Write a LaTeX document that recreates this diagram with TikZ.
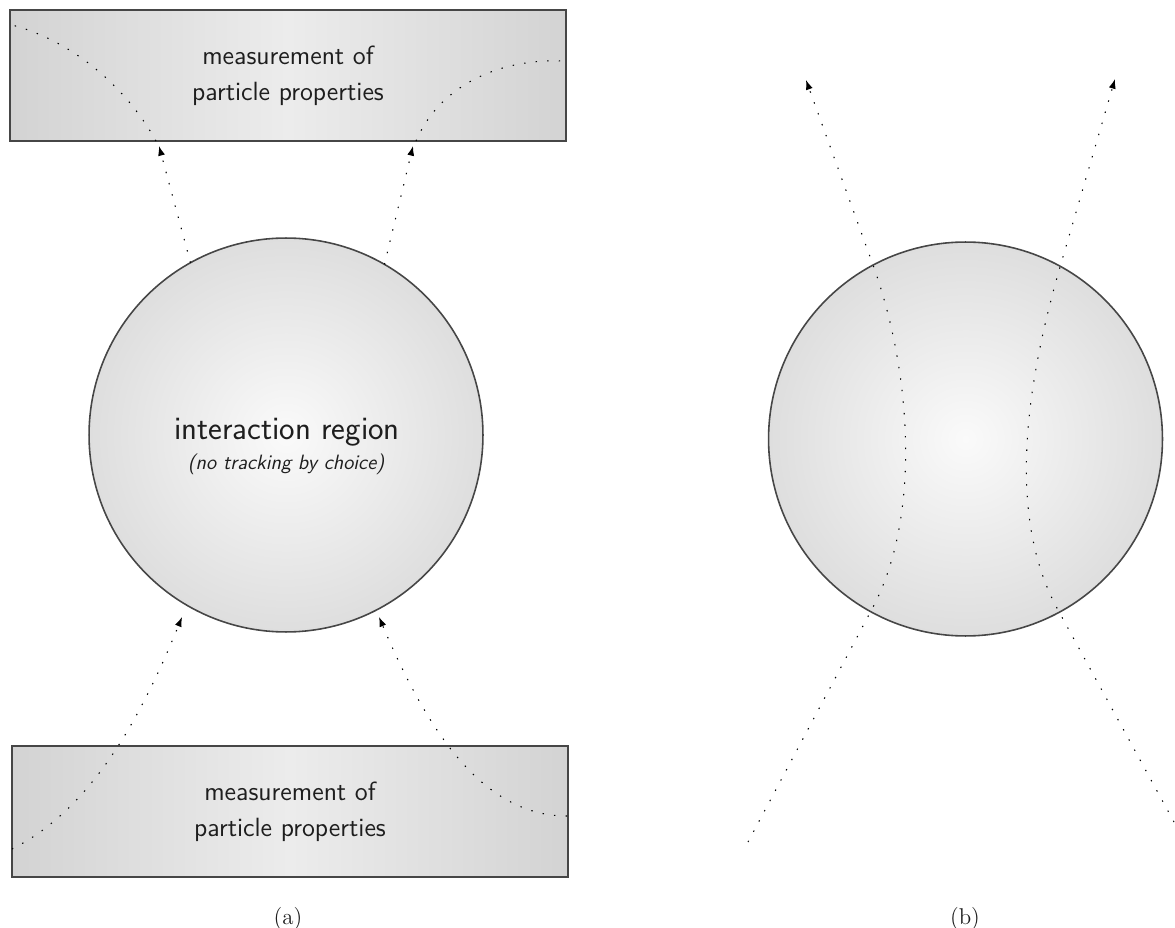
\documentclass[tikz,border=0pt]{standalone}
\usepackage{fontspec}
\usetikzlibrary{arrows.meta}
\definecolor{boxedge}{RGB}{211,211,211}
\definecolor{boxmid}{RGB}{236,236,236}
\definecolor{ballin}{RGB}{250,250,250}
\definecolor{ballout}{RGB}{222,222,222}
\definecolor{edgegray}{RGB}{70,70,70}
\definecolor{txt}{RGB}{30,30,30}
\begin{document}
\begin{tikzpicture}[x=0.02cm,y=-0.02cm,
  measbox/.style={draw=edgegray, line width=0.8pt, rectangle,
    minimum width=11.12cm, minimum height=2.62cm, inner sep=0pt, outer sep=0pt,
    left color=boxedge, right color=boxedge, middle color=boxmid,
    align=center, text=txt, font=\sffamily\fontsize{15}{20.4}\selectfont},
  ball/.style={draw=edgegray, line width=0.9pt, circle, minimum size=7.88cm,
    inner sep=0pt, outer sep=0pt, inner color=ballin, outer color=ballout},
  track/.style={line width=0.6pt, dash pattern=on 0.8pt off 5.8pt, black},
  trackarrow/.style={track, -{Latex[length=5.5pt,width=4pt]}},
  caption/.style={font=\fontsize{13}{15}\selectfont, text=txt},
  heading/.style={font=\sffamily\fontsize{18.7}{22}\selectfont, text=txt, anchor=base},
  subheading/.style={font=\sffamily\itshape\fontsize{11.8}{14}\selectfont, text=txt, anchor=base}
]
\useasboundingbox (0,0) rectangle (1175,928);

% ---------- panel (a) ----------
\node[measbox] (topbox) at (288,75.5) {measurement of\\particle properties};
\node[measbox] (botbox) at (290,811.5) {measurement of\\particle properties};
\node[ball] (ballA) at (286,435) {};
\node[heading] (title) at (287,439) {interaction region};
\node[subheading] (sub) at (286,469) {(no tracking by choice)};

\coordinate (tlTip) at (159,146);
\coordinate (trTip) at (413,146);
\coordinate (tlIn) at (156,141);
\coordinate (tlOut) at (12,25);
\coordinate (trIn) at (416,141);
\coordinate (trOut) at (565,61);
\coordinate (blStart) at (12,849);
\coordinate (blTip) at (182,617);
\coordinate (brStart) at (567,816);
\coordinate (brTip) at (379,617);

\draw[trackarrow] (ballA.119.5) -- (tlTip);
\draw[trackarrow] (ballA.60) -- (trTip);
\draw[track] (tlIn) .. controls (125,85) and (70,40) .. (tlOut);
\draw[track] (trIn) .. controls (440,85) and (500,58) .. (trOut);
\draw[trackarrow] (blStart) .. controls (90,810) and (140,720) .. (blTip);
\draw[trackarrow] (brStart) .. controls (480,816) and (425,725) .. (brTip);

\node[caption] (capA) at (288,919) {(a)};

% ---------- panel (b) ----------
\node[ball] (ballB) at (965.5,439) {};

\coordinate (lStart) at (748,842);
\coordinate (lIn) at (872,609);
\coordinate (lOut) at (873,265);
\coordinate (lTip) at (806,80);
\coordinate (rStart) at (1174,822);
\coordinate (rIn) at (1058,610);
\coordinate (rOut) at (1060,267);
\coordinate (rTip) at (1115,79);

\draw[trackarrow] (lStart) -- (lIn) .. controls (923,514) and (910,367) .. (lOut) -- (lTip);
\draw[trackarrow] (rStart) -- (rIn) .. controls (1004,512) and (1029,375) .. (rOut) -- (rTip);

\node[caption] (capB) at (965,919) {(b)};
\end{tikzpicture}
\end{document}
